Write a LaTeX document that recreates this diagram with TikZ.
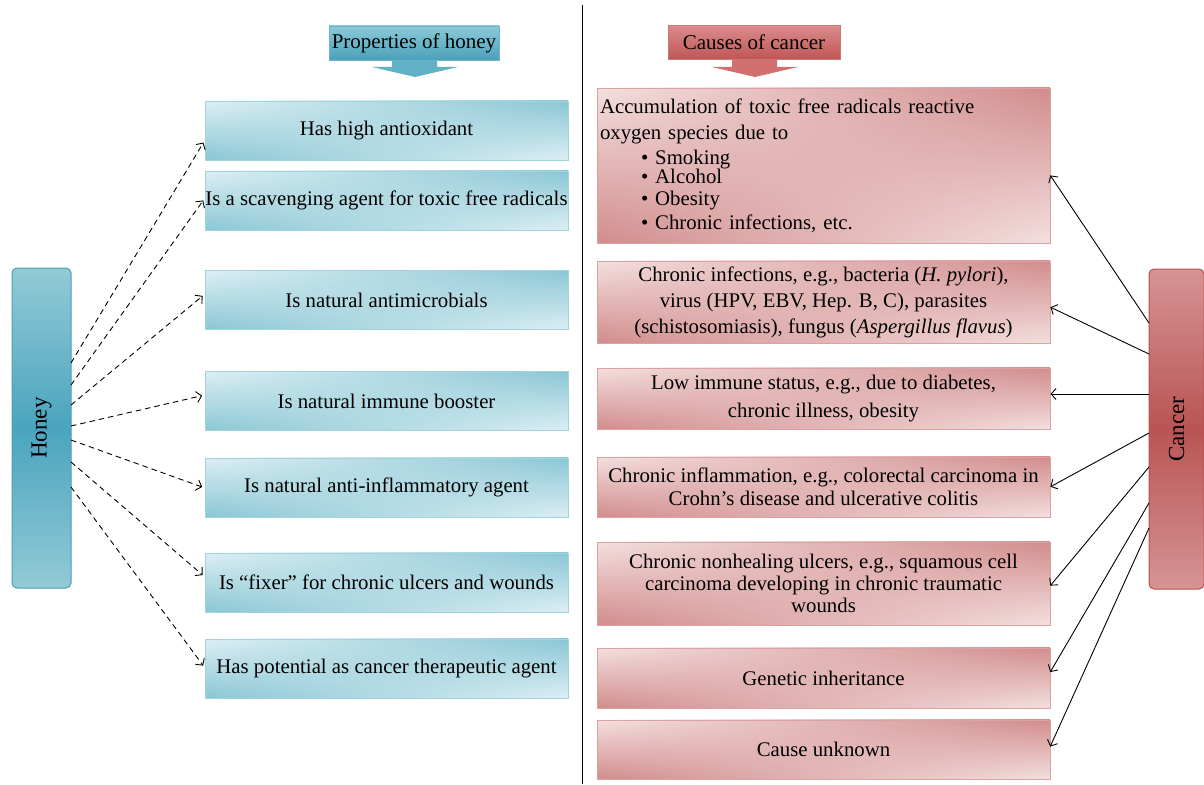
\documentclass[tikz,border=0pt]{standalone}
\usepackage{fontspec}
\setmainfont{Liberation Serif}
\usetikzlibrary{arrows.meta,fadings}
\definecolor{lbdark}{HTML}{8AC7D5}
\definecolor{lblight}{HTML}{DDEFF4}
\definecolor{lbborder}{HTML}{A3D3DF}
\definecolor{rbdark}{HTML}{D28C8C}
\definecolor{rblight}{HTML}{F4E0E0}
\definecolor{rbborder}{HTML}{DBA2A2}
\definecolor{hbmid}{HTML}{4AA4BE}
\definecolor{hbout}{HTML}{93CAD6}
\definecolor{hbborder}{HTML}{4A9FB8}
\definecolor{cbmid}{HTML}{B95454}
\definecolor{cbout}{HTML}{D69494}
\definecolor{cbborder}{HTML}{B54F4F}
\definecolor{tbtop}{HTML}{8CCAD8}
\definecolor{tbbot}{HTML}{4AA0BA}
\definecolor{tbarrow}{HTML}{62B2C7}
\definecolor{trtop}{HTML}{DA8C8C}
\definecolor{trbot}{HTML}{C05555}
\definecolor{trarrow}{HTML}{D27070}
\begin{document}
\begin{tikzpicture}[x=1pt,y=-1pt,
  every node/.style={outer sep=0pt},
  lbox/.style={top color=lblight, bottom color=lbdark,
    postaction={top color=lbdark, bottom color=lblight, path fading=west},
    postaction={draw=lbborder, line width=0.9pt},
    minimum width=363pt, minimum height=59pt, inner sep=0pt,
    font=\fontsize{20.8}{24}\selectfont, text=black},
  rbox/.style={top color=rblight, bottom color=rbdark,
    postaction={top color=rbdark, bottom color=rblight, path fading=west},
    postaction={draw=rbborder, line width=0.9pt},
    minimum width=453pt, inner sep=1pt, align=center,
    font=\fontsize{20.8}{26}\selectfont, text=black},
  sidebox/.style={rounded corners=5pt, line width=1pt, minimum width=59pt,
    minimum height=320pt, text=black},
  sidetext/.style={rotate=90, font=\fontsize{23}{26}\selectfont, text=black},
  titlebox/.style={line width=0.8pt, minimum height=34pt,
    font=\fontsize{21}{24}\selectfont, text=black, inner sep=1pt},
  darr/.style={line width=0.9pt, dash pattern=on 5.5pt off 4pt,
    -{Straight Barb[length=5pt,width=11pt]}, shorten >=3pt},
  sarr/.style={line width=0.9pt, -{Straight Barb[length=5pt,width=11pt]}, shorten >=0.5pt}
]
\useasboundingbox (0,0) rectangle (1204,784);

% divider
\draw[line width=0.9pt] (582,5) -- (582,784);

% titles
\node[titlebox, draw=tbbot!80, top color=tbtop, bottom color=tbbot, minimum width=170pt] (tl) at (414,43) {Properties of honey};
\fill[tbarrow] (392,60) -- (437,60) -- (437,67) -- (458,67) -- (415,77) -- (372,67) -- (392,67) -- cycle;
\node[titlebox, draw=trbot!80, top color=trtop, bottom color=trbot, minimum width=172pt] (tr) at (754,42.5) {Causes of cancer};
\fill[trarrow] (732,60) -- (777,60) -- (777,67) -- (798,67) -- (755,77) -- (712,67) -- (732,67) -- cycle;

% side boxes
\node[sidebox, draw=hbborder, top color=hbout, bottom color=hbout, middle color=hbmid] (honey) at (41.5,428) {};
\node[sidetext] (honeyt) at (honey.center) {Honey};
\node[sidebox, minimum width=55pt, draw=cbborder, top color=cbout, bottom color=cbout, middle color=cbmid] (cancer) at (1176.5,429) {};
\node[sidetext] (cancert) at (cancer.center) {Cancer};

% left boxes
\node[lbox] (b1) at (386.5,130.5) {Has high antioxidant};
\node[lbox] (b2) at (386.5,200.5) {Is a scavenging agent for toxic free radicals};
\node[lbox] (b3) at (386.5,300) {Is natural antimicrobials};
\node[lbox] (b4) at (386.5,401) {Is natural immune booster};
\node[lbox] (b5) at (386.5,487.5) {Is natural anti-inflammatory agent};
\node[lbox] (b6) at (386.5,582.5) {Is “fixer” for chronic ulcers and wounds};
\node[lbox] (b7) at (386.5,668.5) {Has potential as cancer therapeutic agent};

% right boxes
\node[rbox, minimum height=155pt, align=left, text width=447pt] (r1) at (823.5,165.5)
  {Accumulation of toxic free radicals reactive\\
   oxygen species due to\\[-1pt]
   \hspace*{41pt}\textbullet\ Smoking\\[-7pt]
   \hspace*{41pt}\textbullet\ Alcohol\\[-4pt]
   \hspace*{41pt}\textbullet\ Obesity\\[-2pt]
   \hspace*{41pt}\textbullet\ Chronic infections, etc.};
\node[rbox, minimum height=82pt] (r2) at (823.5,302)
  {Chronic infections, e.g., bacteria (\textit{H. pylori}),\\
   virus (HPV, EBV, Hep. B, C), parasites\\
   (schistosomiasis), fungus (\textit{Aspergillus flavus})};
\node[rbox, minimum height=61pt, font=\fontsize{20.8}{28}\selectfont] (r3) at (823.5,398.5)
  {Low immune status, e.g., due to diabetes,\\ chronic illness, obesity};
\node[rbox, minimum height=60pt, font=\fontsize{20.8}{23}\selectfont] (r4) at (823.5,487)
  {Chronic inflammation, e.g., colorectal carcinoma in\\ Crohn’s disease and ulcerative colitis};
\node[rbox, minimum height=83pt, font=\fontsize{20.8}{22}\selectfont] (r5) at (823.5,583.5)
  {Chronic nonhealing ulcers, e.g., squamous cell\\ carcinoma developing in chronic traumatic\\ wounds};
\node[rbox, minimum height=60pt] (r6) at (823.5,678) {Genetic inheritance};
\node[rbox, minimum height=59pt] (r7) at (823.5,749.5) {Cause unknown};

% honey arrows
\draw[darr] ([yshift=65pt]honey.east) -- ([yshift=-9.5pt]b1.west);
\draw[darr] ([yshift=43pt]honey.east) -- ([yshift=2.5pt]b2.west);
\draw[darr] ([yshift=23pt]honey.east) -- ([yshift=6pt]b3.west);
\draw[darr] ([yshift=2pt]honey.east) -- ([yshift=6pt]b4.west);
\draw[darr] ([yshift=-12pt]honey.east) -- ([yshift=-0.5pt]b5.west);
\draw[darr] ([yshift=-34pt]honey.east) -- ([yshift=5.5pt]b6.west);
\draw[darr] ([yshift=-59pt]honey.east) -- ([yshift=0.5pt]b7.west);

% cancer arrows
\draw[sarr] ([yshift=106pt]cancer.west) -- ([yshift=-9.5pt]r1.east);
\draw[sarr] ([yshift=75pt]cancer.west) -- ([yshift=-5pt]r2.east);
\draw[sarr] ([yshift=35pt]cancer.west) -- ([yshift=4.5pt]r3.east);
\draw[sarr] ([yshift=-4pt]cancer.west) -- ([yshift=0pt]r4.east);
\draw[sarr] ([yshift=-38pt]cancer.west) -- ([yshift=-2.5pt]r5.east);
\draw[sarr] ([yshift=-74pt]cancer.west) -- ([yshift=5.5pt]r6.east);
\draw[sarr] ([yshift=-99pt]cancer.west) -- ([yshift=2.5pt]r7.east);
\end{tikzpicture}
\end{document}
